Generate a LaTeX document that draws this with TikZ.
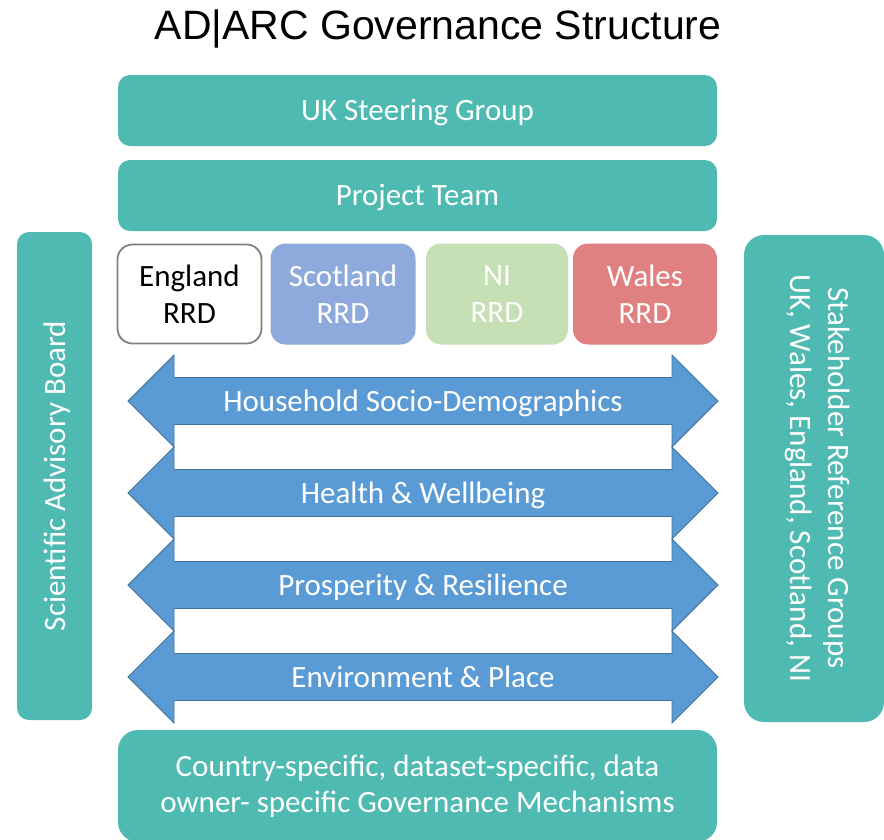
\documentclass[tikz,border=0pt]{standalone}
\usepackage{fontspec}
\setmainfont{Carlito}
\newfontfamily\titlefont{Liberation Sans}
\definecolor{tealbox}{RGB}{78,186,177}
\definecolor{scotblue}{RGB}{142,169,219}
\definecolor{nigreen}{RGB}{197,224,180}
\definecolor{walesred}{RGB}{224,128,128}
\definecolor{arrowfill}{RGB}{91,155,213}
\definecolor{arrowline}{RGB}{65,113,156}
\definecolor{engline}{RGB}{128,128,128}
\begin{document}
\begin{tikzpicture}[x=1pt,y=-1pt,
  box/.style={fill=tealbox,draw=none,text=white,inner sep=0pt,align=center,
    font=\fontsize{31}{36}\selectfont},
  wide/.style={box,minimum width=599pt,minimum height=71pt,rounded corners=12pt,
    text height=20pt,text depth=0pt},
  rrd/.style={inner sep=0pt,align=center,minimum width=145pt,minimum height=101pt,
    rounded corners=15pt,text=white,font=\fontsize{31}{37}\selectfont},
  theme/.style={fill=arrowfill,draw=arrowline,line width=0.8pt,line join=miter},
  themelabel/.style={text=white,inner sep=0pt,text height=20pt,text depth=0pt,
    font=\fontsize{31}{35}\selectfont}]
\useasboundingbox (0,0) rectangle (884,839);

% title
\node[font=\titlefont\fontsize{41}{45}\selectfont,inner sep=0pt,text height=29pt,text depth=0pt] (title) at (438,24.5) {AD|ARC Governance Structure};

% top bars
\node[wide] (steer) at (417.5,110.5) {UK Steering Group};
\node[wide] (team) at (417.5,195.5) {Project Team};

% side bars
\node[box,minimum width=75pt,minimum height=488pt,rounded corners=12pt] (sab) at (54.5,476) {};
\node[font=\fontsize{31}{35}\selectfont,text=white,rotate=90] (sabtext) at (57,476) {Scientific Advisory Board};
\node[box,minimum width=140pt,minimum height=487pt,rounded corners=20pt] (stake) at (814,478.5) {};
\node[font=\fontsize{31}{38}\selectfont,text=white,rotate=-90,align=center] (staketext) at (818,478) {Stakeholder Reference Groups\\UK, Wales, England, Scotland, NI};

% country RRD boxes
\node[rrd,fill=white,draw=engline,line width=1.8pt,text=black,minimum width=144pt,minimum height=99pt] (eng) at (189.5,294) {England\\RRD};
\node[rrd,fill=scotblue] (scot) at (343,294) {Scotland\\RRD};
\node[rrd,fill=nigreen,minimum width=142pt] (ni) at (497,294) {NI\\RRD};
\node[rrd,fill=walesred,minimum width=144pt] (wales) at (645,294) {Wales\\RRD};

% thematic double arrows
\foreach \y/\lab [count=\i] in {401/Household Socio-Demographics,493/Health \& Wellbeing,585/Prosperity \& Resilience,677/Environment \& Place}{
  \draw[theme] (128,\y) -- (174,{\y-46}) -- (174,{\y-23.5}) -- (672,{\y-23.5}) -- (672,{\y-46})
    -- (718,\y) -- (672,{\y+46}) -- (672,{\y+23.5}) -- (174,{\y+23.5}) -- (174,{\y+46}) -- cycle;
  \node[themelabel] (theme\i) at (423,\y) {\lab};
}

% bottom bar
\node[box,minimum width=599pt,minimum height=112pt,rounded corners=20pt] (mech) at (417.5,786) {Country-specific, dataset-specific, data\\owner- specific Governance Mechanisms};
\end{tikzpicture}
\end{document}
